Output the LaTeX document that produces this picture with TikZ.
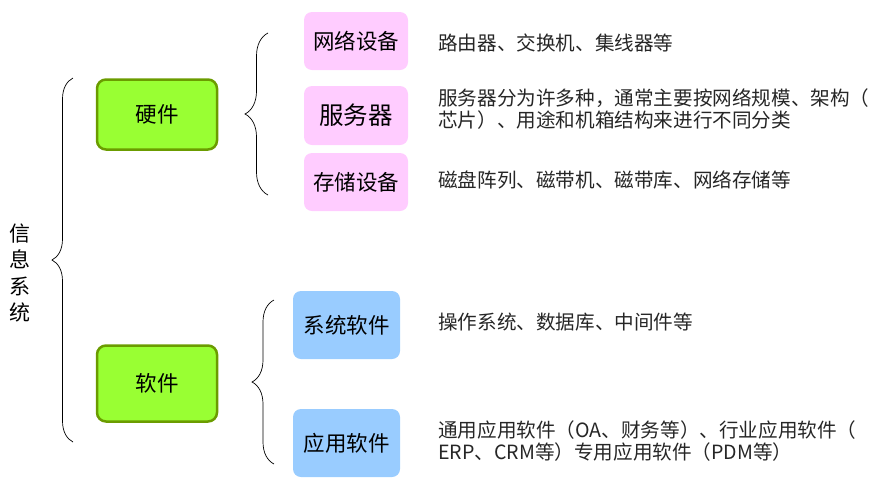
\documentclass[tikz,border=0pt]{standalone}
\usepackage{fontspec}
\setmainfont{Noto Sans CJK SC}
\usetikzlibrary{decorations.pathreplacing}
\definecolor{hwgreen}{RGB}{153,255,51}
\definecolor{hwedge}{RGB}{107,156,0}
\definecolor{devpink}{RGB}{255,204,255}
\definecolor{swblue}{RGB}{153,204,255}
\begin{document}
\begin{tikzpicture}[x=1pt,y=-1pt,
    catbox/.style={draw=hwedge, fill=hwgreen, line width=2.5pt, rounded corners=9pt,
      minimum width=120pt, font=\fontsize{21.5}{24}\selectfont},
    devbox/.style={fill=devpink, rounded corners=8pt, minimum width=104pt,
      minimum height=58pt, font=\fontsize{21.5}{24}\selectfont},
    softbox/.style={fill=swblue, rounded corners=8pt, minimum width=107pt,
      minimum height=68pt, font=\fontsize{21.5}{24}\selectfont},
    desc/.style={anchor=west, align=left, inner sep=0pt, text=black!85,
      font=\fontsize{19.6}{22}\selectfont},
    curly/.style={decorate, decoration={brace, amplitude=#1}, line width=0.7pt}]
    \useasboundingbox (0,0) rectangle (894,488);

    % Root
    \node[align=center, font=\fontsize{21}{26.5}\selectfont] (info) at (20,273) {信\\息\\系\\统};

    % Hardware / software
    \node[catbox, minimum height=70pt] (hw) at (157,114.5) {硬件};
    \node[catbox, minimum height=76pt] (sw) at (157,383.5) {软件};

    % Hardware items
    \node[devbox] (net) at (356,41) {网络设备};
    \node[devbox, minimum height=59pt, font=\fontsize{24.5}{26}\selectfont] (srv) at (356,115.5) {服务器};
    \node[devbox] (sto) at (356,182) {存储设备};

    % Software items
    \node[softbox] (syssw) at (346.5,325) {系统软件};
    \node[softbox] (appsw) at (346.5,443) {应用软件};

    % Descriptions
    \node[desc] (netd) at (438,43) {路由器、交换机、集线器等};
    \node[desc] (srvd) at (438,109) {服务器分为许多种，通常主要按网络规模、架构（\\芯片）、用途和机箱结构来进行不同分类};
    \node[desc] (stod) at (438,180) {磁盘阵列、磁带机、磁带库、网络存储等};
    \node[desc] (sysd) at (438,322) {操作系统、数据库、中间件等};
    \node[desc] (appd) at (438,441) {通用应用软件（OA、财务等）、行业应用软件（\\ERP、CRM等）专用应用软件（PDM等）};

    % Braces
    \coordinate (rootlo) at (73,442);
    \coordinate (roothi) at (73,78);
    \coordinate (hwlo) at (268,195);
    \coordinate (hwhi) at (268,33);
    \coordinate (swlo) at (274,464);
    \coordinate (swhi) at (274,300);
    \draw[curly=21pt] (rootlo) -- (roothi);
    \draw[curly=23pt] (hwlo) -- (hwhi);
    \draw[curly=22pt] (swlo) -- (swhi);
\end{tikzpicture}
\end{document}
